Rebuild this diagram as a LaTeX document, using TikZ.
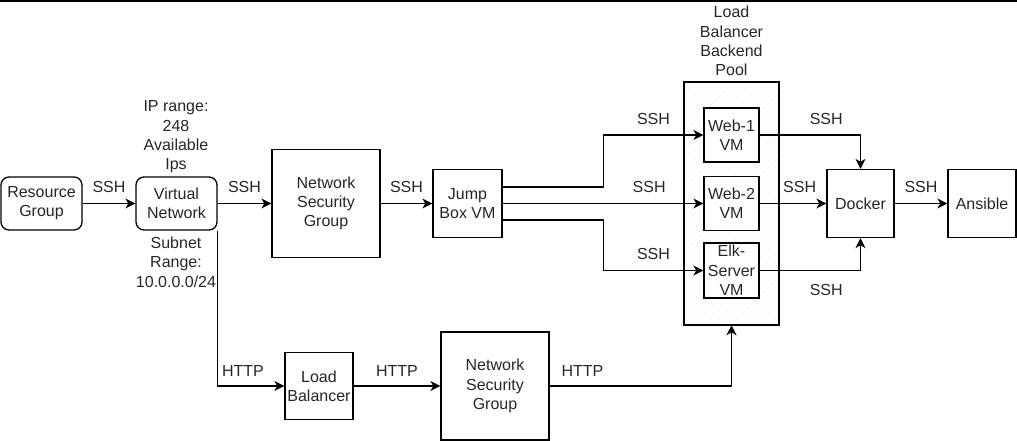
\documentclass[tikz,border=0pt]{standalone}
\usepackage{fontspec}
\setmainfont{Liberation Sans}
\usetikzlibrary{arrows.meta,patterns.meta}
\begin{document}
\begin{tikzpicture}[x=1pt, y=-1pt, >={Stealth[length=10pt,width=10pt,inset=3pt]},
    line width=1.3pt, font=\fontsize{16}{19.3}\selectfont,
    box/.style={draw, fill=white, text=black!85, align=center, inner sep=0pt},
    rbox/.style={box, rounded corners=8pt},
    lbl/.style={text=black!85, align=center, inner sep=0pt}]
\useasboundingbox (0,0) rectangle (1017,441);
\draw[line width=2pt] (0,1)--(1017,1);

\node[rbox, minimum width=81pt, minimum height=53pt] (rg) at (41.5,203.5) {Resource\\Group};
\node[rbox, minimum width=81pt, minimum height=53pt] (vnet) at (176.5,203.5) {Virtual\\Network};
\node[lbl] (iprange) at (176,137) {IP range:\\248\\Available\\Ips};
\node[lbl] (subnet) at (176,262) {Subnet\\Range:\\10.0.0.0/24};
\node[box, minimum width=108pt, minimum height=108pt] (nsg) at (326,203.5) {Network\\Security\\Group};
\node[box, minimum width=69pt, minimum height=68pt] (jump) at (467.5,203.5) {Jump\\Box VM};

\node[draw, pattern={Lines[angle=45,distance=5pt,line width=.5pt]}, pattern color=black!5,
    minimum width=95pt, minimum height=243pt, inner sep=0pt] (pool) at (731.5,203.5) {};
\node[lbl] (poolname) at (731.5,41) {Load\\Balancer\\Backend\\Pool};
\node[box, minimum width=55pt, minimum height=54pt] (web1) at (731.5,135) {Web-1\\VM};
\node[box, minimum width=55pt, minimum height=54pt] (web2) at (731.5,203.5) {Web-2\\VM};
\node[box, minimum width=55pt, minimum height=55pt] (elk) at (731.5,270.5) {Elk-\\Server\\VM};

\node[box, minimum width=67pt, minimum height=68pt] (docker) at (860.5,203.5) {Docker};
\node[box, minimum width=68pt, minimum height=68pt] (ansible) at (982,203.5) {Ansible};

\node[box, minimum width=68pt, minimum height=67pt] (lb) at (319,386) {Load\\Balancer};
\node[box, minimum width=108pt, minimum height=108pt] (nsgb) at (495,386) {Network\\Security\\Group};

\draw[->] (rg)--node[lbl, above=10pt]{SSH}(vnet);
\draw[->] (vnet)--node[lbl, above=10pt]{SSH}(nsg);
\draw[->] (nsg)--node[lbl, above=10pt]{SSH}(jump);

\draw[->] ([yshift=16.5pt]jump.east)--++(101,0)|-node[lbl, pos=.75, above=10pt]{SSH}(web1.west);
\draw[->] (jump.east)--node[lbl, pos=.73, above=10pt]{SSH}(web2.west);
\draw[->] ([yshift=-16.5pt]jump.east)--++(101,0)|-node[lbl, pos=.75, above=10pt]{SSH}(elk.west);

\draw[->] (web1.east)-|node[lbl, pos=.33, above=10pt]{SSH}(docker.north);
\draw[->] (web2.east)--node[lbl, pos=.6, above=10pt]{SSH}(docker.west);
\draw[->] (elk.east)-|node[lbl, pos=.33, below=13pt]{SSH}(docker.south);
\draw[->] (docker)--node[lbl, above=10pt]{SSH}(ansible);

\draw[->] (vnet.south east)|-node[lbl, pos=.69, above=9pt]{HTTP}(lb.west);
\draw[->] (lb)--node[lbl, above=9pt]{HTTP}(nsgb);
\draw[->] (nsgb.east)-|node[lbl, pos=.09, above=9pt]{HTTP}(pool.south);
\end{tikzpicture}
\end{document}
